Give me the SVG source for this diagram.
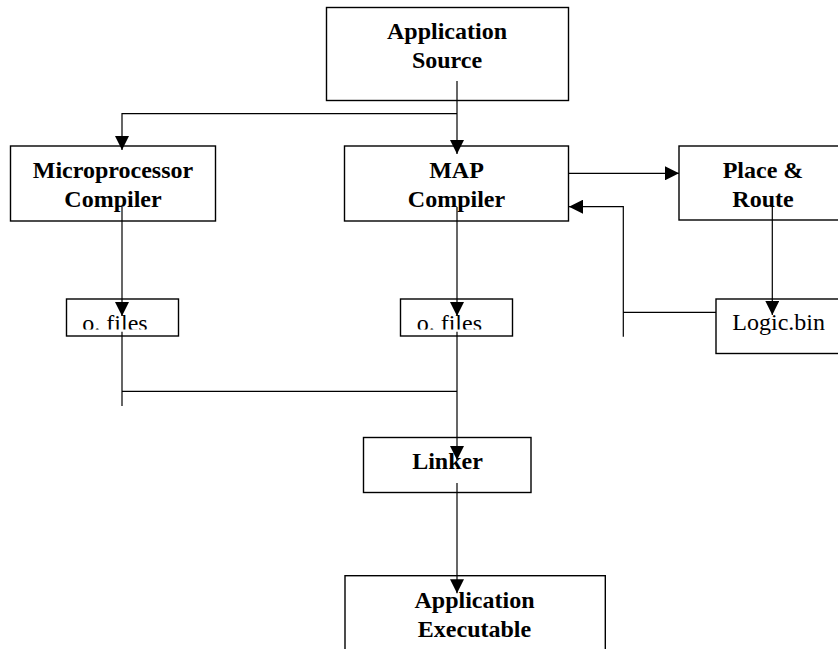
<svg xmlns="http://www.w3.org/2000/svg" width="838" height="649" viewBox="0 0 838 649">
<defs>
<style>
.box{fill:#fff;stroke:#000;stroke-width:1.4}
.b{font-family:"Liberation Serif","Times New Roman",serif;font-weight:bold;font-size:24px;text-anchor:middle;fill:#000}
.r{font-family:"Liberation Serif","Times New Roman",serif;font-size:24px;fill:#000}
.ln{fill:none;stroke:#000;stroke-width:1.2}
</style>
<marker id="ah" viewBox="0 0 14 14" markerWidth="14" markerHeight="14" refX="14" refY="7" orient="auto" markerUnits="userSpaceOnUse">
<path d="M0,0 L14,7 L0,14 Z" fill="#000"/>
</marker>
<clipPath id="c1"><rect x="66" y="299" width="113" height="30.5"/></clipPath>
<clipPath id="c2"><rect x="400" y="299" width="113" height="30.5"/></clipPath>
</defs>
<g id="app-source"><rect class="box" x="326.5" y="7.5" width="242" height="93"/><text class="b" x="447" y="39">Application</text><text class="b" x="447" y="68">Source</text></g>
<g id="micro-compiler"><rect class="box" x="10.5" y="146" width="205" height="75"/><text class="b" x="113" y="178">Microprocessor</text><text class="b" x="113" y="207">Compiler</text></g>
<g id="map-compiler"><rect class="box" x="344.5" y="146" width="224" height="75"/><text class="b" x="456.5" y="178">MAP</text><text class="b" x="456.5" y="207">Compiler</text></g>
<g id="place-route"><rect class="box" x="679" y="146" width="170" height="74"/><text class="b" x="763" y="178">Place &amp;</text><text class="b" x="763" y="207">Route</text></g>
<g id="ofiles1"><rect class="box" x="66.5" y="299" width="112" height="37"/><text class="r" x="82.3" y="331" clip-path="url(#c1)">o. files</text></g>
<g id="ofiles2"><rect class="box" x="400.5" y="299" width="112" height="37"/><text class="r" x="416.7" y="331" clip-path="url(#c2)">o. files</text></g>
<g id="logic-bin"><rect class="box" x="716" y="299" width="130" height="54.5"/><text class="r" x="732.3" y="330">Logic.bin</text></g>
<g id="linker"><rect class="box" x="363.5" y="437.5" width="167.5" height="55"/><text class="b" x="447.5" y="469">Linker</text></g>
<g id="app-exec"><rect class="box" x="345" y="575.7" width="260.3" height="80"/><text class="b" x="474.5" y="608">Application</text><text class="b" x="474.5" y="637">Executable</text></g>
<g id="connectors">
<path class="ln" d="M457,81 V154" marker-end="url(#ah)"/>
<path class="ln" d="M457,113.7 H122 V150" marker-end="url(#ah)"/>
<path class="ln" d="M568.5,173.3 H679" marker-end="url(#ah)"/>
<path class="ln" d="M716,312.3 H623.3 M623.3,336.7 V206.7 H569" marker-end="url(#ah)"/>
<path class="ln" d="M772.3,206 V315" marker-end="url(#ah)"/>
<path class="ln" d="M122,207 V316" marker-end="url(#ah)"/>
<path class="ln" d="M457,207 V316" marker-end="url(#ah)"/>
<path class="ln" d="M122,331.7 V406 M122,391.3 H457 M457,331.7 V460" marker-end="url(#ah)"/>
<path class="ln" d="M457,483 V593.3" marker-end="url(#ah)"/>
</g>
</svg>
